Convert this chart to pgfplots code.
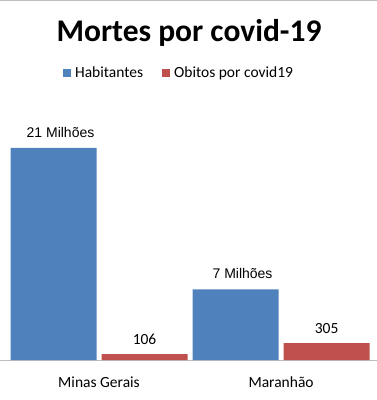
\documentclass[border=0pt]{standalone}
\usepackage{pgfplots}
\pgfplotsset{compat=1.18}
\usepackage{fontspec}
\setmainfont{Carlito}
\newfontfamily\arialf{Liberation Sans}
\definecolor{xblue}{HTML}{4F81BD}
\definecolor{xred}{HTML}{C0504D}
\definecolor{xgray}{HTML}{BEBEBE}
\begin{document}
\begin{tikzpicture}
\path[use as bounding box] (0,-40pt) rectangle (377pt,360pt);
\pgfplotsset{
  common/.style={
    width=377pt, height=260pt, scale only axis,
    at={(0,0)}, anchor=south west,
    xmin=-0.544, xmax=1.527, ymin=0,
    ybar, bar width=0.4725,
    clip=false,
    /pgf/number format/assume math mode=true,
  }
}
% Habitantes (millions)
\begin{axis}[common,
  ymax=25.75,
  axis x line*=bottom, axis y line=none,
  x axis line style={draw=xgray, line width=0.9pt},
  xtick={0,1}, xticklabels={Minas Gerais, Maranhão},
  major tick length=0pt,
  xticklabel style={anchor=base, yshift=-27.7pt, font=\fontsize{15.5}{18}\selectfont},
]
\addplot[fill=xblue, draw=none, bar shift=-0.25,
  nodes near coords, point meta=explicit symbolic,
  nodes near coords style={font=\arialf\fontsize{14}{16}\selectfont, anchor=center, yshift=15.5pt, xshift=7pt, text=black}]
  coordinates {(0,21) [21 Milhões] (1,7) [7 Milhões]};
\end{axis}
% Obitos
\begin{axis}[common,
  ymax=4680,
  hide axis,
  legend columns=2,
  legend style={at={(0.475,1.105)}, anchor=center, draw=none, fill=none,
    font=\fontsize{15.5}{18}\selectfont,
    /tikz/every odd column/.append style={column sep=2pt},
    /tikz/every even column/.append style={column sep=17pt}},
  legend image code/.code={\fill[#1] (0pt,-4pt) rectangle (8pt,4pt);},
]
\addlegendimage{fill=xblue, draw=none}
\addlegendentry{Habitantes}
\addplot[fill=xred, draw=none, bar shift=0.25,
  nodes near coords,
  nodes near coords style={font=\fontsize{15.5}{18}\selectfont, anchor=center, yshift=15pt, text=black}]
  coordinates {(0,106) (1,305)};
\addlegendentry{Obitos por covid19}
\end{axis}
\node[font=\bfseries\fontsize{31.5}{36}\selectfont, anchor=base] at (189pt,318.3pt) {Mortes por covid-19};
\draw[xgray, line width=1pt] (0,359.5pt) -- (377pt,359.5pt);
\end{tikzpicture}
\end{document}
